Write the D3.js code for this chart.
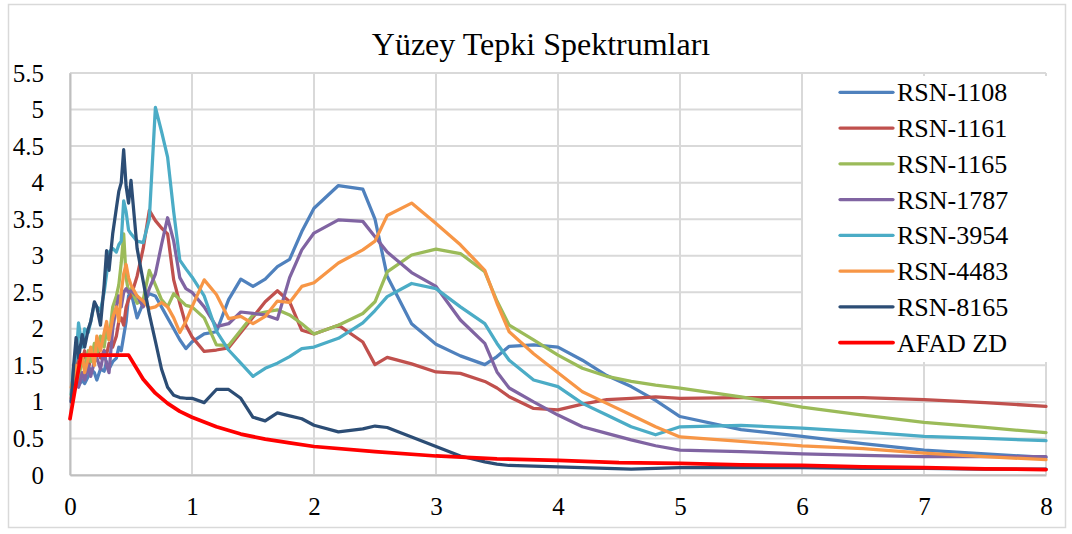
<!DOCTYPE html>
<html>
<head>
<meta charset="utf-8">
<script src="https://cdn.jsdelivr.net/npm/d3@7"></script>
<style>
  html, body { margin: 0; padding: 0; background: #fff; }
  svg { display: block; font-family: "Liberation Serif", "Times New Roman", serif; }
</style>
</head>
<body>
<svg id="chart" width="1072" height="534"></svg>
<script>
// Periods (s) shared by the recorded spectra
const periods = [0.01, 0.03, 0.05, 0.07, 0.1, 0.12, 0.15, 0.17, 0.2, 0.22, 0.25, 0.28, 0.3, 0.32, 0.35, 0.38, 0.4, 0.42, 0.44, 0.46, 0.48, 0.5,
  0.55, 0.6, 0.65, 0.7, 0.75, 0.8, 0.85, 0.9, 0.95, 1.0,
  1.1, 1.2, 1.3, 1.4, 1.5, 1.6, 1.7, 1.8, 1.9, 2.0,
  2.2, 2.4, 2.5, 2.6, 2.8, 3.0, 3.2, 3.4, 3.5, 3.6, 3.8, 4.0,
  4.2, 4.4, 4.6, 4.8, 5.0, 5.5, 6.0, 6.5, 7.0, 7.5, 8.0];

// Spectral accelerations (g) of each surface record
const rsn1108 = [1.02, 1.2, 1.25, 1.22, 1.3, 1.25, 1.35, 1.45, 1.4, 1.3, 1.45, 1.42, 1.55, 1.45, 1.55, 1.6, 1.75, 1.7, 1.9, 2.1, 2.45, 2.5,
  2.15, 2.35, 2.48, 2.45, 2.3, 2.15, 2.0, 1.85, 1.73, 1.82,
  1.93, 1.96, 2.4, 2.68, 2.58, 2.68, 2.85, 2.95, 3.33, 3.65,
  3.96, 3.91, 3.5, 2.72, 2.07, 1.79, 1.63, 1.51, 1.62, 1.76, 1.78, 1.75,
  1.57, 1.36, 1.21, 1.02, 0.80, 0.62, 0.53, 0.43, 0.34, 0.29, 0.24];

const rsn1161 = [1.05, 1.3, 1.65, 1.4, 1.55, 1.7, 1.45, 1.6, 1.55, 1.75, 1.6, 1.7, 1.65, 1.8, 1.75, 1.9, 2.1, 2.15, 2.05, 2.3, 2.4, 2.45,
  2.72, 3.1, 3.62, 3.48, 3.38, 3.3, 2.67, 2.35, 2.05, 1.89,
  1.69, 1.71, 1.74, 1.95, 2.16, 2.37, 2.52, 2.37, 1.98, 1.93,
  2.05, 1.82, 1.51, 1.61, 1.52, 1.41, 1.39, 1.28, 1.19, 1.07, 0.91, 0.89,
  0.97, 1.03, 1.05, 1.07, 1.05, 1.06, 1.06, 1.06, 1.03, 0.99, 0.94];

const rsn1165 = [1.1, 1.25, 1.45, 1.3, 1.6, 1.45, 1.7, 1.55, 1.8, 1.65, 1.9, 1.75, 2.0, 1.85, 2.3, 2.45, 2.6, 2.9, 3.3, 2.7, 2.5, 2.55,
  2.35, 2.4, 2.8, 2.6, 2.4, 2.3, 2.48, 2.4, 2.32, 2.3,
  2.15, 1.78, 1.77, 1.98, 2.19, 2.23, 2.26, 2.19, 2.07, 1.93,
  2.05, 2.21, 2.37, 2.78, 3.01, 3.09, 3.03, 2.78, 2.38, 2.05, 1.85, 1.64,
  1.46, 1.35, 1.28, 1.23, 1.19, 1.07, 0.93, 0.82, 0.72, 0.65, 0.58];

const rsn1787 = [1.0, 1.15, 1.3, 1.2, 1.4, 1.3, 1.5, 1.35, 1.55, 1.6, 1.45, 1.7, 1.5, 1.4, 2.0, 2.3, 2.45, 2.3, 2.5, 2.55, 2.5, 2.52,
  2.45, 2.3, 2.55, 2.75, 3.15, 3.52, 3.2, 2.7, 2.55, 2.5,
  2.3, 2.03, 2.07, 2.23, 2.21, 2.19, 2.13, 2.7, 3.08, 3.31,
  3.49, 3.47, 3.26, 3.05, 2.77, 2.58, 2.12, 1.80, 1.41, 1.19, 1.0, 0.82,
  0.66, 0.57, 0.48, 0.40, 0.34, 0.32, 0.29, 0.27, 0.25, 0.25, 0.25];

const rsn3954 = [1.1, 1.5, 1.6, 2.08, 1.75, 2.0, 1.95, 2.1, 2.35, 2.3, 2.25, 2.5, 2.75, 3.05, 3.1, 3.05, 3.15, 3.2, 3.75, 3.6, 3.35, 3.3,
  3.2, 3.18, 3.5, 5.03, 4.7, 4.35, 3.6, 2.94, 2.82, 2.71,
  2.45, 1.97, 1.71, 1.53, 1.35, 1.46, 1.53, 1.62, 1.73, 1.75,
  1.87, 2.08, 2.25, 2.44, 2.62, 2.55, 2.30, 2.07, 1.80, 1.57, 1.30, 1.21,
  0.98, 0.82, 0.66, 0.55, 0.66, 0.68, 0.64, 0.59, 0.53, 0.50, 0.47];

const rsn4483 = [1.2, 1.35, 1.5, 1.45, 1.65, 1.4, 1.6, 1.75, 1.5, 1.9, 1.7, 1.95, 2.1, 1.85, 2.15, 2.3, 2.1, 2.5, 2.75, 2.88, 2.7, 2.6,
  2.45, 2.38, 2.28, 2.3, 2.36, 2.3, 2.15, 1.95, 2.1, 2.3,
  2.67, 2.47, 2.14, 2.17, 2.07, 2.17, 2.38, 2.36, 2.58, 2.63,
  2.9, 3.08, 3.2, 3.55, 3.72, 3.44, 3.15, 2.8, 2.35, 1.96, 1.66, 1.40,
  1.14, 0.98, 0.82, 0.66, 0.52, 0.46, 0.40, 0.36, 0.30, 0.25, 0.21];

const rsn8165 = [1.0, 1.5, 1.88, 1.6, 1.92, 1.75, 2.0, 2.1, 2.37, 2.3, 2.05, 2.6, 3.07, 2.8, 3.3, 3.65, 3.88, 4.0, 4.45, 3.95, 3.72, 4.03,
  3.1, 2.65, 2.2, 1.83, 1.45, 1.2, 1.09, 1.06, 1.05, 1.05,
  0.99, 1.17, 1.17, 1.05, 0.79, 0.74, 0.85, 0.81, 0.77, 0.68,
  0.59, 0.63, 0.67, 0.65, 0.52, 0.39, 0.26, 0.18, 0.15, 0.13, 0.12, 0.11,
  0.10, 0.09, 0.08, 0.09, 0.10, 0.10, 0.10, 0.09, 0.09, 0.08, 0.08];

// Design spectrum (AFAD, soil class ZD)
const afadPeriods = [0, 0.09, 0.48, 0.6, 0.7, 0.8, 0.9, 1.0, 1.2, 1.4, 1.6, 1.8, 2.0, 2.5, 3.0, 3.5, 4.0, 4.5, 5.0, 5.5, 6.0, 6.5, 7.0, 7.5, 8.0];
const afadZD = [0.77, 1.64, 1.64, 1.31, 1.12, 0.98, 0.87, 0.79, 0.66, 0.56, 0.49, 0.44, 0.39, 0.32, 0.26, 0.22, 0.20, 0.17, 0.16, 0.14, 0.13, 0.11, 0.10, 0.085, 0.075];

const seriesNames = ["RSN-1108", "RSN-1161", "RSN-1165", "RSN-1787", "RSN-3954", "RSN-4483", "RSN-8165", "AFAD ZD"];
const seriesColors = ["#4F81BD", "#C0504D", "#9BBB59", "#8064A2", "#4BACC6", "#F79646", "#2C4D75", "#FF0000"];
const xTicks = [0, 1, 2, 3, 4, 5, 6, 7, 8];
const yTicks = [0, 0.5, 1, 1.5, 2, 2.5, 3, 3.5, 4, 4.5, 5, 5.5];
const chartTitle = "Yüzey Tepki Spektrumları";

const series = [
  { name: seriesNames[0], color: seriesColors[0], t: periods, sa: rsn1108, w: 3.25 },
  { name: seriesNames[1], color: seriesColors[1], t: periods, sa: rsn1161, w: 3.25 },
  { name: seriesNames[2], color: seriesColors[2], t: periods, sa: rsn1165, w: 3.25 },
  { name: seriesNames[3], color: seriesColors[3], t: periods, sa: rsn1787, w: 3.25 },
  { name: seriesNames[4], color: seriesColors[4], t: periods, sa: rsn3954, w: 3.25 },
  { name: seriesNames[5], color: seriesColors[5], t: periods, sa: rsn4483, w: 3.25 },
  { name: seriesNames[6], color: seriesColors[6], t: periods, sa: rsn8165, w: 3.25 },
  { name: seriesNames[7], color: seriesColors[7], t: afadPeriods, sa: afadZD, w: 3.75 }
];

const svg = d3.select("#chart");

// Chart frame
svg.append("rect")
  .attr("x", 8.5).attr("y", 4.5).attr("width", 1057).attr("height", 523)
  .attr("fill", "#fff").attr("stroke", "#d9d9d9").attr("stroke-width", 1.5);

const x = d3.scaleLinear().domain([0, 8]).range([70, 1046]);
const y = d3.scaleLinear().domain([0, 5.5]).range([475, 73]);

// Gridlines
const grid = svg.append("g");
grid.selectAll("line.h").data(yTicks).join("line")
  .attr("x1", x(0)).attr("x2", x(8))
  .attr("y1", d => y(d)).attr("y2", d => y(d))
  .attr("stroke", "#d9d9d9").attr("stroke-width", 2);
grid.selectAll("line.v").data(xTicks).join("line")
  .attr("x1", d => x(d)).attr("x2", d => x(d))
  .attr("y1", y(0)).attr("y2", y(5.5))
  .attr("stroke", "#d9d9d9").attr("stroke-width", 2);

// Axes
const xAxis = svg.append("g").attr("transform", `translate(0,${y(0)})`)
  .call(d3.axisBottom(x).tickValues(xTicks).tickFormat(d => String(d)).tickSize(0).tickPadding(22));
const yAxis = svg.append("g").attr("transform", `translate(${x(0)},0)`)
  .call(d3.axisLeft(y).tickValues(yTicks).tickFormat(d => String(d)).tickSize(0).tickPadding(26));
[xAxis, yAxis].forEach(a => {
  a.attr("font-family", null);
  a.select(".domain").attr("stroke", "#bfbfbf").attr("stroke-width", 2);
  a.selectAll("text").attr("font-size", 25).attr("fill", "#000");
});

// Spectra
const line = d3.line().x(d => x(d[0])).y(d => y(d[1]));
svg.append("g").selectAll("path").data(series).join("path")
  .attr("d", s => line(s.t.map((t, i) => [t, s.sa[i]])))
  .attr("fill", "none")
  .attr("stroke", s => s.color)
  .attr("stroke-width", s => s.w)
  .attr("stroke-linejoin", "round")
  .attr("stroke-linecap", "round");

// Title
svg.append("text")
  .attr("x", 541).attr("y", 55)
  .attr("text-anchor", "middle")
  .attr("font-size", 32).attr("fill", "#000")
  .text(chartTitle);

// Legend
const legend = svg.append("g");
legend.append("rect").attr("x", 803).attr("y", 76).attr("width", 245).attr("height", 286).attr("fill", "#fff");
const items = legend.selectAll("g.item").data(series).join("g")
  .attr("transform", (d, i) => `translate(0,${92.3 + i * 35.75})`);
items.append("line")
  .attr("x1", 840).attr("x2", 893).attr("y1", 0).attr("y2", 0)
  .attr("stroke", d => d.color).attr("stroke-width", d => d.w)
  .attr("stroke-linecap", "round");
items.append("text")
  .attr("x", 897).attr("y", 0).attr("dy", "0.35em")
  .attr("font-size", 26).attr("fill", "#000")
  .text(d => d.name);
</script>
</body>
</html>
